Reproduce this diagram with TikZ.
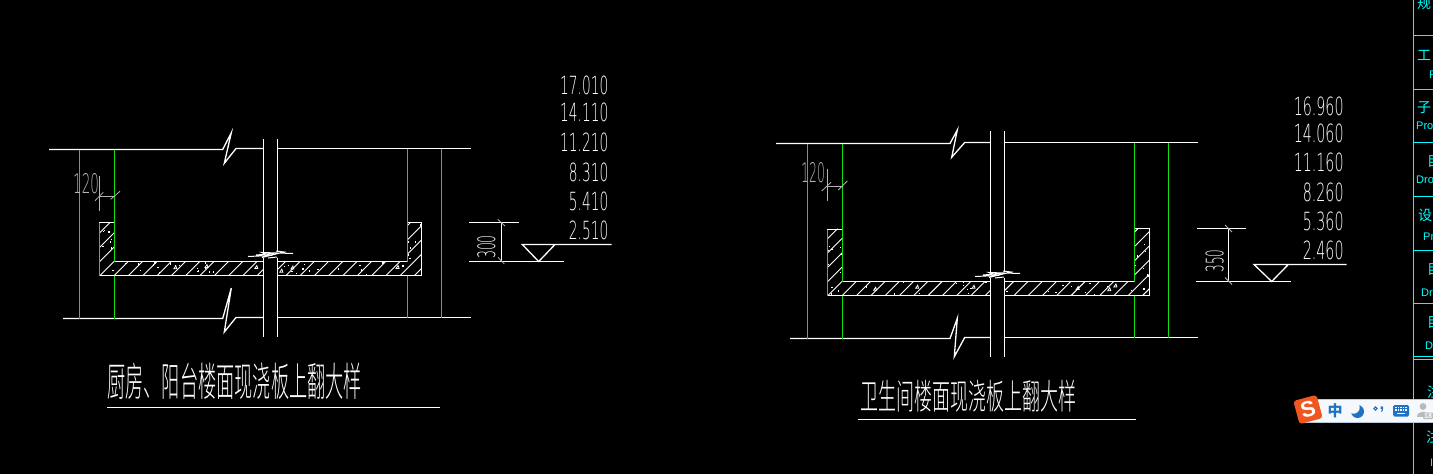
\documentclass[tikz,border=0pt]{standalone}
\usepackage{fontspec}
\setmainfont{DejaVu Sans ExtraLight}
\newfontfamily\cjk{Noto Sans CJK SC Light}
\newfontfamily\cjkreg{Noto Sans CJK SC}
\newfontfamily\sidefont{Liberation Sans}
\newfontfamily\boldface{Liberation Sans Bold}
\definecolor{cadgreen}{HTML}{10E010}
\definecolor{cadgray}{HTML}{B4B4B4}
\definecolor{cadcyan}{HTML}{00FFFF}
\definecolor{imeblue}{HTML}{1F72C4}
\definecolor{imebar}{HTML}{F5F8FC}
\definecolor{imeedge}{HTML}{B8C8DC}
\definecolor{imeorange}{HTML}{F0561F}
\tikzset{
  wline/.style={draw=white,line width=1.3pt},
  gline/.style={draw=cadgreen,line width=1.3pt},
  dimline/.style={draw=cadgray,line width=1pt},
  tline/.style={draw=cadgray,line width=.8pt},
  hatchline/.style={draw=white,line width=.9pt},
  num/.style={text=white,inner sep=0pt,anchor=base east,font=\fontsize{25}{25}\selectfont},
  dimtxt/.style={inner sep=0pt,font=\fontsize{27}{27}\selectfont},
  titletxt/.style={text=white,inner sep=0pt,anchor=west},
  sidetxt/.style={text=cadcyan,inner sep=0pt,font=\sidefont\fontsize{11}{11}\selectfont},
  sidecjk/.style={text=cadcyan,inner sep=0pt,font=\cjkreg\fontsize{14}{14}\selectfont},
}
\newcommand{\nar}[2]{\scalebox{#1}[1]{#2}}
% hatch and aggregate fill of the slab
\newcommand{\slabfill}[9]{%
  \begin{scope}
    \clip (#1,#7)--(#2,#7)--(#2,#8)--(#3,#8)--(#3,#9)--(#1,#9)--cycle
          (#4,#8)--(#5,#8)--(#5,#7)--(#6,#7)--(#6,#9)--(#4,#9)--cycle;
    \foreach \k in {-5,...,27}{
      \pgfmathsetmacro\hs{#1+#9+0.7+14.3*\k}
      \pgfmathsetmacro\hA{\hs-#9}
      \pgfmathsetmacro\hB{\hs-#7}
      \draw[hatchline] (\hA,#9)--(\hB,#7);
    }
    \foreach \k in {1,...,34}{
      \pgfmathsetmacro\dx{#1+rnd*(#6-#1)}
      \pgfmathsetmacro\dy{#8+rnd*(#9-#8)}
      \fill[white] (\dx,\dy) rectangle ++(1.4,1.4);
    }
    \foreach \k in {1,...,7}{
      \pgfmathsetmacro\dx{#1+rnd*(#2-#1)}
      \pgfmathsetmacro\dy{#7+rnd*(#8-#7)}
      \fill[white] (\dx,\dy) rectangle ++(1.4,1.4);
      \pgfmathsetmacro\dx{#5+rnd*(#6-#5)}
      \pgfmathsetmacro\dy{#7+rnd*(#8-#7)}
      \fill[white] (\dx,\dy) rectangle ++(1.4,1.4);
    }
    \foreach \k in {1,...,6}{
      \pgfmathsetmacro\dx{#1+16+rnd*(#6-#1-32)}
      \pgfmathsetmacro\dy{#8+5+rnd*(#9-#8-7)}
      \draw[white,line width=.8pt] (\dx,\dy)--++(3,0)--++(-1,-3)--cycle;
    }
  \end{scope}}
\begin{document}
\begin{tikzpicture}[x=1pt,y=-1pt]
\useasboundingbox (0,0) rectangle (1433,474);
\fill[black] (0,0) rectangle (1433,474);

% ---------- left detail ----------
\pgfmathsetseed{11}
\slabfill{99.3}{114.3}{263.3}{277.3}{407.3}{421.7}{222.5}{261.5}{275.5}
\draw[wline] (49,149.5)--(222.7,149.5)--(231.3,132.7)--(224.3,163.3)--(236,148.5)--(263.3,148.5);
\draw[wline] (277.3,148.5)--(470.7,148.5);
\draw[wline] (63,318.5)--(222.7,318.5)--(231.3,288)--(224.3,332)--(236,317.5)--(263.3,317.5);
\draw[wline] (277.3,317.5)--(470.7,317.5);
\draw[wline] (263.3,139)--(263.3,252) (277.3,139)--(277.3,252);
\draw[wline] (263.3,258)--(263.3,336.7) (277.3,258)--(277.3,336.7);
\draw[wline] (99.3,222.5)--(114.3,222.5);
\draw[wline] (114.3,261.5)--(263.3,261.5) (277.3,261.5)--(407.3,261.5);
\draw[wline] (99.3,275.5)--(263.3,275.5) (277.3,275.5)--(421.7,275.5)--(421.7,222.5)--(407.3,222.5);
\draw[wline,line width=1pt] (248,256.5)--(270,255.5)--(262,252.5)--(293,253.5) (262,257.5)--(284,252)--(276,251) (256,255)--(274,253.5) (268,258)--(277,257);
\draw[gline] (79.3,149.5)--(79.3,318.5);
\draw[gline] (114.3,149.5)--(114.3,261.5) (114.3,275.5)--(114.3,318.5);
\draw[gline] (99.3,222.5)--(99.3,275.5);
\draw[gline] (407.3,148.5)--(407.3,261.5) (407.3,275.5)--(407.3,317.5);
\draw[gline] (441.3,148.5)--(441.3,317.5);
% 120
\draw[dimline] (99.3,176)--(99.3,210.7) (99.3,196)--(115,196);
\draw[tline] (95,200.7)--(103.3,192.3) (110.7,199.3)--(120,191.3);
\node[dimtxt,text=cadgray,anchor=base west] (dimLa) at (73,193) {\nar{.5}{120}};
% elevation
\foreach \yy/\tx/\nm in {94/17.010/a,121.7/14.110/b,151.7/11.210/c,181.2/8.310/d,210.5/5.410/e,239.7/2.510/f}
  \node[num] (lev\nm) at (608.5,\yy) {\nar{.55}{\tx}};
\draw[wline] (469,222.5)--(519,222.5) (469,261.5)--(564,261.5);
\draw[wline] (501.3,222.5)--(501.3,261.5);
\draw[tline] (497.7,219.3)--(505,226) (498,257.3)--(504.3,264);
\draw[wline] (611.7,244.5)--(522.3,244.5)--(538.7,261.5)--(555,244.5);
\node[dimtxt,text=white,rotate=90,font=\fontsize{24}{24}\selectfont] (dimLb) at (486.5,247) {\nar{.52}{300}};
% title
\node[titletxt] (titleL) at (107,381.5) {\cjk\fontsize{40}{40}\selectfont\nar{.455}{厨房、阳台楼面现浇板上翻大样}};
\draw[wline] (107,407.5)--(440,407.5);

% ---------- right detail ----------
\pgfmathsetseed{23}
\slabfill{827.3}{842.3}{990.3}{1004.3}{1134.3}{1149.3}{228.5}{281.5}{295.5}
\draw[wline] (776,143.5)--(950,143.5)--(957.3,130)--(951.7,157.3)--(964.7,142.5)--(990.3,142.5);
\draw[wline] (1004.3,142.5)--(1197.7,142.5);
\draw[wline] (790,338.5)--(950,338.5)--(957.3,318.3)--(954.3,356.7)--(964.7,337.5)--(990.3,337.5);
\draw[wline] (1004.3,337.5)--(1197.7,337.5);
\draw[wline] (990.3,131)--(990.3,271.7) (1004.3,131)--(1004.3,271.7);
\draw[wline] (990.3,278)--(990.3,356.7) (1004.3,278)--(1004.3,356.7);
\draw[wline] (827.3,229.5)--(842.3,229.5);
\draw[wline] (842.3,281.5)--(990.3,281.5) (1004.3,281.5)--(1134.3,281.5);
\draw[wline] (827.3,295.5)--(990.3,295.5) (1004.3,295.5)--(1149.3,295.5)--(1149.3,228.5)--(1134.3,228.5);
\draw[wline,line width=1pt] (975,276.5)--(997,275.5)--(989,272.5)--(1020,273.5) (989,277.5)--(1011,272)--(1003,271) (983,275)--(1001,273.5) (995,278)--(1004,277);
\draw[gline] (807.3,143.5)--(807.3,338.5);
\draw[gline] (842.3,143.5)--(842.3,281.5) (842.3,295.5)--(842.3,338.5);
\draw[gline] (827.3,229.5)--(827.3,295.5);
\draw[gline] (1134.3,142.5)--(1134.3,281.5) (1134.3,295.5)--(1134.3,337.5);
\draw[gline] (1168.3,142.5)--(1168.3,337.5);
% 120
\draw[dimline] (827.3,169)--(827.3,200.7) (827.3,186.7)--(843,186.7);
\draw[tline] (821.7,191)--(831,182.3) (838.3,190)--(847.3,181);
\node[dimtxt,text=cadgray,anchor=base west] (dimRa) at (801,182.7) {\nar{.46}{120}};
% elevation
\foreach \yy/\tx/\nm in {115/16.960/a,142.3/14.060/b,171.7/11.160/c,201.4/8.260/d,230.5/5.360/e,259.7/2.460/f}
  \node[num] (rev\nm) at (1343.8,\yy) {\nar{.57}{\tx}};
\draw[wline] (1197,228.5)--(1246,228.5) (1196,281.5)--(1291,281.5);
\draw[wline] (1228.3,228.5)--(1228.3,281.5);
\draw[tline] (1225,225)--(1232,232) (1225,277.5)--(1232,284.5);
\draw[wline] (1346.7,264.5)--(1254,264.5)--(1271.7,281.5)--(1288.3,264.5);
\node[dimtxt,text=white,rotate=90,font=\fontsize{24}{24}\selectfont] (dimRb) at (1214.7,261) {\nar{.5}{350}};
% title
\node[titletxt] (titleR) at (860,396) {\cjk\fontsize{35}{35}\selectfont\nar{.514}{卫生间楼面现浇板上翻大样}};
\draw[wline] (858,419.5)--(1136,419.5);

% ---------- side palette ----------
\begin{scope}
\clip (1400,0) rectangle (1433,474);
\draw[cadcyan,line width=1.2pt] (1413.3,0)--(1413.3,474);
\foreach \yy in {35.5,89.5,142.5,196.5,250.5,303.5,356.5,359.5}
  \draw[cadcyan,line width=1pt] (1413.3,\yy)--(1433,\yy);
\node[sidecjk] (pa) at (1424,3) {规};
\node[sidecjk] (pb) at (1424,55) {工};
\node[sidetxt,anchor=west] (pb2) at (1429,75) {P};
\node[sidecjk] (pc) at (1424,108) {子};
\node[sidetxt,anchor=west] (pc2) at (1416,126) {Pro};
\node[sidecjk] (pd) at (1434,162) {目};
\node[sidetxt,anchor=west] (pd2) at (1416,180) {Dro};
\node[sidecjk] (pe) at (1425,215) {设};
\node[sidetxt,anchor=west] (pe2) at (1423,237) {Pr};
\node[sidecjk] (pf) at (1434,270) {目};
\node[sidetxt,anchor=west] (pf2) at (1421,293) {Dro};
\node[sidecjk] (pg) at (1434,323) {目};
\node[sidetxt,anchor=west] (pg2) at (1425,346) {Dr};
\node[sidecjk] (ph) at (1434,392) {注};
\node[sidecjk] (pi) at (1433,437) {注};
\node[sidetxt,anchor=west] (pj) at (1430,463) {I};
\end{scope}

% ---------- input-method bar ----------
\fill[imebar,draw=imeedge,line width=1pt] (1305,399)--(1434,399)--(1434,422.3)--(1305,422.3)--cycle;
\node[rotate=15,fill=imeorange,rounded corners=3pt,minimum size=24pt,inner sep=0pt,text=white,font=\boldface\fontsize{22}{22}\selectfont] (logo) at (1308,409.5) {S};
\node[text=imeblue,inner sep=0pt,font=\cjkreg\bfseries\fontsize{15}{15}\selectfont] (zh) at (1335,411) {中};
\fill[imeblue] (1357.5,411.5) circle (6.5);
\fill[imebar] (1353.5,407.5) circle (6.2);
\draw[imeblue,line width=1pt] (1375.5,408.5) circle (1.6);
\node[text=imeblue,inner sep=0pt,font=\boldface\fontsize{17}{17}\selectfont] (comma) at (1382,410) {,};
\fill[imeblue,rounded corners=1.5pt] (1393,405)rectangle(1409,416.5);
\foreach \a in {0,1,2,3,4}\foreach \b in {0,1}
  \fill[white] (1395+2.6*\a,406.8+2.6*\b) rectangle ++(1.5,1.5);
\fill[white] (1397,412.8) rectangle (1405,414.2);
\fill[gray!55] (1423,406.5) circle (3.4);
\fill[gray!55] (1417,417)..controls (1417,410) and (1429,410) .. (1429,417)--cycle;
\fill[gray!55,rounded corners=1pt] (1423,412.5) rectangle (1433,419);
\node[text=white,inner sep=0pt,font=\boldface\fontsize{7}{7}\selectfont] (age) at (1428,415.8) {18};
\end{tikzpicture}
\end{document}
